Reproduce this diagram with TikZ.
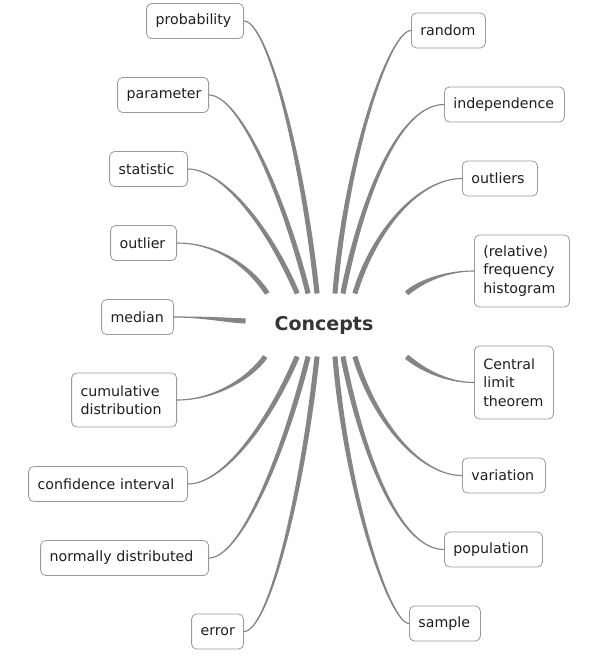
\documentclass[tikz,border=0pt]{standalone}
\usepackage{fontspec}
\setmainfont{DejaVu Sans}
\usetikzlibrary{calc}
\definecolor{conncol}{HTML}{858585}
\definecolor{boxcol}{HTML}{9A9A9A}
\definecolor{txtcol}{HTML}{1E1E1E}
\definecolor{maincol}{HTML}{353535}
% #1 start, #2 horizontal control offset, #3 second control offset (from end), #4 end
\newcommand\mmconn[4]{%
  \coordinate (cA) at ($(#1)+(#2,0)$);
  \coordinate (cB) at ($(#4)+(#3)$);
  \fill[conncol, draw=conncol, line width=1.1pt, line join=round]
    (#1) .. controls (cA) and ($(cB)!2pt!-90:(#4)$) .. ($(#4)!2pt!90:(cB)$)
    -- ($(#4)!2pt!-90:(cB)$) .. controls ($(cB)!2pt!90:(#4)$) and (cA) .. (#1) -- cycle;
}
\begin{document}
\begin{tikzpicture}[x=1pt,y=-1pt,
  box/.style={draw=boxcol, fill=white, rounded corners=5pt, line width=0.8pt,
    font=\fontsize{14.2}{18.5}\selectfont, text=txtcol, inner xsep=9pt, inner ysep=0pt,
    align=left, minimum height=35pt},
  centre/.style={font=\fontsize{19}{22}\selectfont\bfseries, text=maincol, inner sep=0pt}]
\useasboundingbox (0,0) rectangle (590,660);
\fill[white] (0,0) rectangle (590,660);

\node[centre] (main) at (324,325) {Concepts};

% left boxes
\node[box, anchor=east, text width=79pt] (prob) at (244,21) {probability};
\node[box, anchor=east, text width=73pt] (param) at (209,95) {parameter};
\node[box, anchor=east, text width=60pt] (stat) at (188,169) {statistic};
\node[box, anchor=east, text width=48pt] (outl) at (177,243) {outlier};
\node[box, anchor=east, text width=54pt] (med) at (174,317) {median};
\node[box, anchor=east, text width=87pt, minimum height=54pt] (cum) at (177,400) {cumulative\\distribution};
\node[box, anchor=east, text width=141pt] (conf) at (188,484) {confidence interval};
\node[box, anchor=east, text width=150pt] (norm) at (209,558) {normally distributed};
\node[box, anchor=east, text width=34pt] (err) at (244,631.5) {error};

% right boxes
\node[box, anchor=west, text width=56pt] (rand) at (411,30.5) {random};
\node[box, anchor=west, text width=102pt] (indep) at (444,104.5) {independence};
\node[box, anchor=west, text width=57pt] (outs) at (462,178.5) {outliers};
\node[box, anchor=west, text width=77pt, minimum height=72pt] (hist) at (474,271) {(relative)\\frequency\\histogram};
\node[box, anchor=west, text width=61pt, minimum height=73pt] (clt) at (474,382.5) {Central\\limit\\theorem};
\node[box, anchor=west, text width=65pt] (var) at (462,475.5) {variation};
\node[box, anchor=west, text width=80pt] (pop) at (444,549.5) {population};
\node[box, anchor=west, text width=53pt] (samp) at (409,623.5) {sample};

% connector ends around the central topic
\coordinate (eprob) at (317,293);
\coordinate (eparam) at (308,293);
\coordinate (estat) at (297,293);
\coordinate (eoutl) at (267,293);
\coordinate (emed) at (245,321);
\coordinate (erand) at (335,293);
\coordinate (eindep) at (343,293);
\coordinate (eouts) at (355,293);
\coordinate (ehist) at (407,293);
\coordinate (ecum) at (265,357);
\coordinate (econf) at (297,357);
\coordinate (enorm) at (308,357);
\coordinate (eerr) at (317,357);
\coordinate (eclt) at (407,357);
\coordinate (evar) at (355,357);
\coordinate (epop) at (343,357);
\coordinate (esamp) at (335,357);

\mmconn{prob.east}{23}{-15,-140}{eprob}
\mmconn{param.east}{30}{-25,-100}{eparam}
\mmconn{stat.east}{33}{-30,-70}{estat}
\mmconn{outl.east}{43}{-15,-23}{eoutl}
\mmconn{med.east}{30}{-20,-1}{emed}
\mmconn{rand.west}{-21}{12,-140}{erand}
\mmconn{indep.west}{-44}{20,-100}{eindep}
\mmconn{outs.west}{-42}{20,-65}{eouts}
\mmconn{hist.west}{-29}{13,-11}{ehist}
\mmconn{cum.east}{38}{-15,21}{ecum}
\mmconn{conf.east}{34}{-30,70}{econf}
\mmconn{norm.east}{31}{-25,100}{enorm}
\mmconn{err.east}{24}{-15,140}{eerr}
\mmconn{clt.west}{-29}{13,11}{eclt}
\mmconn{var.west}{-42}{20,65}{evar}
\mmconn{pop.west}{-44}{20,100}{epop}
\mmconn{samp.west}{-19}{12,140}{esamp}
\end{tikzpicture}
\end{document}
